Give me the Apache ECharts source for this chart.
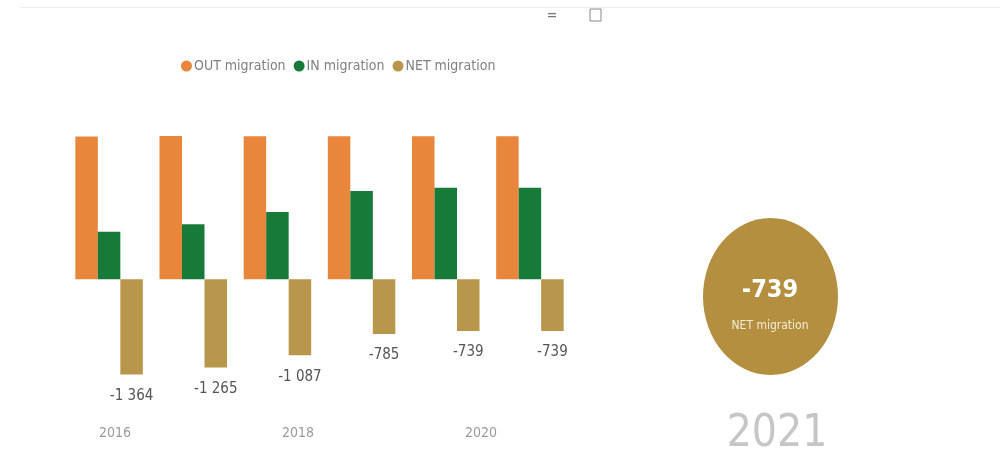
<!DOCTYPE html>
<html><head><meta charset="utf-8">
<script src="https://cdn.jsdelivr.net/npm/echarts@6/dist/echarts.min.js"></script>
<style>html,body{margin:0;padding:0;background:#fff}#c{width:1005px;height:468px}</style>
</head><body><div id="c"></div>
<script>
const years = ['2016','2017','2018','2019','2020','2021'];
const yearTicks = [2016, 2018, 2020];
const outMigration = [2046, 2053, 2051, 2050, 2052, 2052];
const inMigration = [682, 788, 964, 1265, 1313, 1313];
const netMigration = [-1364, -1265, -1087, -785, -739, -739];
const cardYear = '2021';

const FONT = "'Liberation Sans Narrow','DejaVu Sans Condensed','Roboto',sans-serif";
const fmt = v => { const s = Math.abs(v).toString().replace(/\B(?=(\d{3})+(?!\d))/g, ' '); return (v < 0 ? '-' : '') + s; };

const chart = echarts.init(document.getElementById('c'), null, {renderer: 'canvas'});
const lastNet = netMigration[netMigration.length - 1];
chart.setOption({
  animation: false,
  backgroundColor: '#fff',
  legend: {
    top: 54, left: 176, itemWidth: 11, itemHeight: 11, itemGap: 8, icon: 'circle',
    textStyle: {color: '#808080', fontSize: 14, fontFamily: FONT, padding: [0,0,0,-3]},
    data: ['OUT migration', 'IN migration', 'NET migration']
  },
  grid: {left: 67, width: 505, top: 125.8, height: 258.2, containLabel: false},
  xAxis: [
    {type: 'category', data: years, axisLine: {show: false}, axisTick: {show: false}, axisLabel: {show: false}},
    {type: 'value', position: 'bottom', min: 2015.475, max: 2020.995,
     axisLine: {show: false}, axisTick: {show: false}, splitLine: {show: false},
     axisLabel: {customValues: yearTicks, margin: 42, color: '#9a9a9a', fontSize: 14, fontFamily: FONT, formatter: v => String(v)}}
  ],
  yAxis: {type: 'value', min: -1500, max: 2200, show: false, splitLine: {show: false}},
  series: [
    {name: 'OUT migration', type: 'bar', data: outMigration, barWidth: 22.5, barGap: '0%', itemStyle: {color: '#E8873B'}},
    {name: 'IN migration', type: 'bar', data: inMigration, barWidth: 22.5, barGap: '0%', itemStyle: {color: '#187A38'}},
    {name: 'NET migration', type: 'bar', data: netMigration, barWidth: 22.5, barGap: '0%', itemStyle: {color: '#B8964B'},
     label: {show: true, position: 'bottom', distance: 14, color: '#555', fontSize: 15, fontFamily: FONT, formatter: p => fmt(p.value)}}
  ],
  graphic: [
    {type: 'ellipse', shape: {cx: 770.5, cy: 296.5, rx: 67.5, ry: 78.5}, style: {fill: '#B38F3F'}},
    {type: 'text', x: 770, y: 290, style: {text: fmt(lastNet), fill: '#fff', font: 'bold 25px ' + FONT, textAlign: 'center', textVerticalAlign: 'middle'}},
    {type: 'text', x: 770, y: 326, style: {text: 'NET migration', fill: '#f4ecd8', font: '12px ' + FONT, textAlign: 'center', textVerticalAlign: 'middle'}},
    {type: 'text', x: 777, y: 435, style: {text: cardYear, fill: '#c6c6c6', font: '44px ' + FONT, textAlign: 'center', textVerticalAlign: 'middle'}},
    {type: 'text', x: 552, y: 16, style: {text: '=', fill: '#777', font: '14px ' + FONT, textAlign: 'center', textVerticalAlign: 'middle'}},
    {type: 'rect', shape: {x: 590, y: 9, width: 11, height: 12}, style: {fill: 'none', stroke: '#888', lineWidth: 1}},
    {type: 'line', shape: {x1: 20, y1: 7.5, x2: 1000, y2: 7.5}, style: {stroke: '#eeeeee', lineWidth: 1}}
  ]
});
</script></body></html>
